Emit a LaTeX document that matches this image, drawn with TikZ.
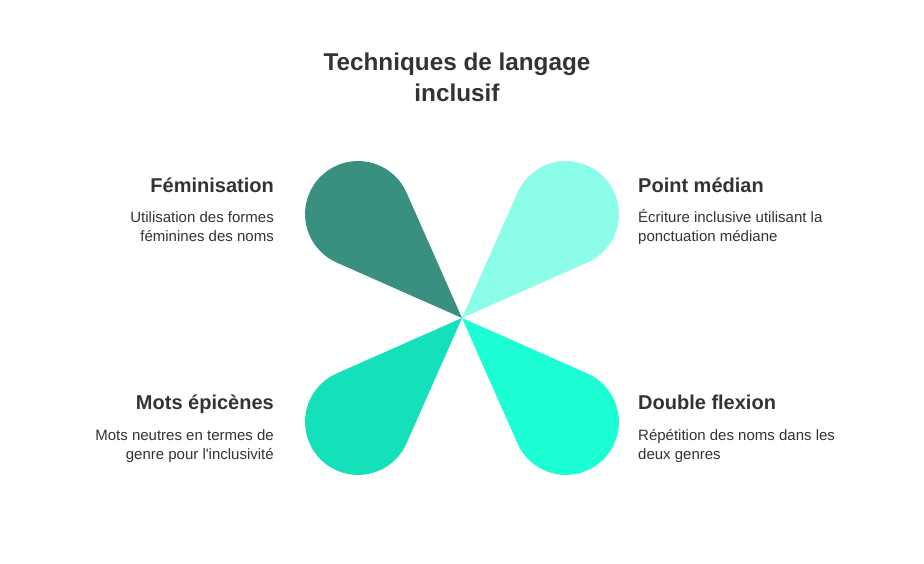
\documentclass[tikz,border=0pt]{standalone}
\usepackage{fontspec}
\setmainfont{Liberation Sans}[Ligatures=TeXOff]
\usetikzlibrary{calc}
\definecolor{txtgray}{HTML}{333333}
\definecolor{petalA}{HTML}{3A9080}
\definecolor{petalB}{HTML}{8CFDE8}
\definecolor{petalC}{HTML}{14E1BA}
\definecolor{petalD}{HTML}{1CFFD5}
\tikzset{
  headtxt/.style={inner sep=0pt, text=txtgray, font=\fontsize{20}{24}\selectfont\bfseries},
  desctxt/.style={inner sep=0pt, text=txtgray, font=\fontsize{15}{19}\selectfont},
}
\begin{document}
\begin{tikzpicture}[x=1pt,y=1pt]

      \useasboundingbox[fill=white] (0,0) rectangle (924,-564);
      \coordinate (ctr) at (462,-318);
      \foreach \ang/\col in {135/petalA, 45/petalB, 225/petalC, 315/petalD}
        \fill[\col] (ctr) -- ($(ctr)+(\ang:147)+(\ang-111.1:53)$)
          arc[start angle=\ang-111.1, end angle=\ang+111.1, radius=53] -- cycle;

\node [text=txtgray, align=center, font=\fontsize{24.3}{31}\selectfont\bfseries] (title) at (457,-77) {Techniques de langage\\inclusif};

\node [headtxt, anchor=base east] (fem) at (274,-193) {Féminisation};
\node [desctxt, anchor=base east, align=right] (femd) at (274,-242) {Utilisation des formes\\féminines des noms};
\node [headtxt, anchor=base west] (med) at (638,-193) {Point médian};
\node [desctxt, anchor=base west, align=left] (medd) at (638,-242) {Écriture inclusive utilisant la\\ponctuation médiane};
\node [headtxt, anchor=base east] (epi) at (274,-409) {Mots épicènes};
\node [desctxt, anchor=base east, align=right] (epid) at (274,-459) {Mots neutres en termes de\\genre pour l'inclusivité};
\node [headtxt, anchor=base west] (dbl) at (638,-409) {Double flexion};
\node [desctxt, anchor=base west, align=left] (dbld) at (638,-459) {Répétition des noms dans les\\deux genres};
\end{tikzpicture}
\end{document}
